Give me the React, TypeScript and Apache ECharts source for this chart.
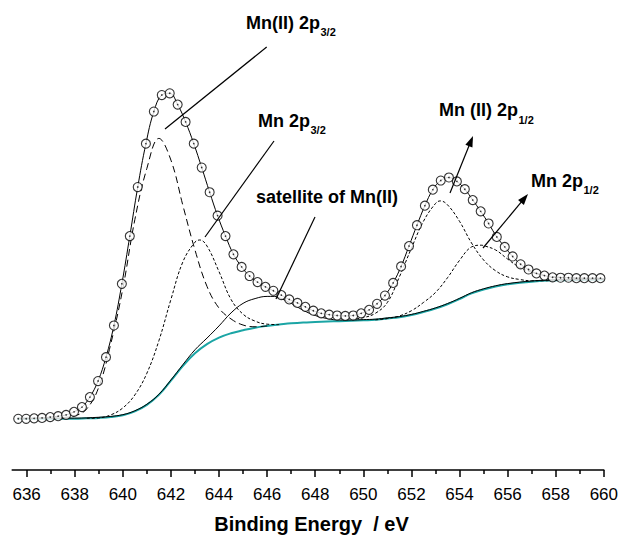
import React, { useEffect, useRef } from "react";
import * as echarts from "echarts";

// Measured spectrum (binding energy in eV, intensity in arbitrary units)
const bindingEnergy = [
  635.65, 635.98, 636.31, 636.64, 636.98, 637.31, 637.64, 637.97, 638.3, 638.63,
  638.97, 639.3, 639.63, 639.96, 640.29, 640.62, 640.96, 641.29, 641.62, 641.95,
  642.28, 642.61, 642.95, 643.28, 643.61, 643.94, 644.27, 644.6, 644.94, 645.27,
  645.6, 645.93, 646.26, 646.59, 646.92, 647.26, 647.59, 647.92, 648.25, 648.58,
  648.91, 649.25, 649.58, 649.91, 650.24, 650.57, 650.9, 651.24, 651.57, 651.9,
  652.23, 652.56, 652.89, 653.22, 653.56, 653.89, 654.22, 654.55, 654.88, 655.21,
  655.55, 655.88, 656.21, 656.54, 656.87, 657.2, 657.53, 657.87, 658.2, 658.53,
  658.86, 659.19, 659.53, 659.86,
];
const intensity = [
  11.8, 11.8, 11.9, 12.0, 12.2, 12.4, 12.7, 13.4, 14.5, 16.8,
  20.5, 26.0, 33.3, 42.9, 53.9, 65.2, 75.2, 82.6, 86.4, 86.8,
  84.2, 80.2, 75.2, 69.7, 64.0, 58.6, 53.9, 49.7, 46.8, 44.7,
  43.3, 42.2, 41.3, 40.3, 39.3, 38.5, 37.6, 36.7, 36.1, 35.8,
  35.6, 35.5, 35.6, 36.1, 36.9, 38.3, 40.2, 43.1, 46.9, 51.6,
  56.4, 60.9, 64.6, 66.7, 67.4, 66.5, 64.7, 62.2, 59.6, 56.8,
  53.7, 51.4, 49.2, 47.4, 46.2, 45.3, 44.8, 44.4, 44.3, 44.3,
  44.2, 44.2, 44.2, 44.2,
];

// Shirley background
const background = [
  [635.6, 11.8], [636, 11.8], [637, 11.8], [638, 11.8], [638.5, 11.9], [639, 12.0],
  [639.5, 12.2], [640, 12.6], [640.5, 13.5], [641, 15.0], [641.5, 17.3], [642, 20.6],
  [642.5, 24.0], [643, 26.9], [643.5, 29.0], [644, 30.5], [644.5, 31.5], [645, 32.2],
  [645.5, 32.8], [646, 33.2], [646.5, 33.5], [647, 33.8], [647.5, 34.0], [648, 34.1],
  [648.5, 34.2], [649, 34.3], [649.5, 34.4], [650, 34.5], [650.5, 34.6], [651, 34.9],
  [651.5, 35.2], [652, 35.7], [652.5, 36.4], [653, 37.2], [653.5, 38.2], [654, 39.4],
  [654.5, 40.7], [655, 41.6], [655.5, 42.3], [656, 42.8], [657, 43.4], [658, 43.7],
  [659, 43.8], [660, 43.9],
];

// Satellite of Mn(II) (solid)
const satelliteFit = [
  [635.6, 11.95], [637, 11.95], [638, 11.95], [639, 12.15], [639.5, 12.35], [640, 12.75],
  [640.5, 13.65], [641, 15.15], [641.5, 17.45], [642, 20.75], [642.5, 24.3], [643, 27.7],
  [643.5, 30.4], [644, 33.2], [644.5, 36.2], [645, 38.4], [645.5, 39.5], [646, 40.0],
  [646.3, 40.0], [646.5, 39.7], [647, 38.4], [647.5, 36.8], [648, 35.6], [648.5, 34.9],
  [649, 34.55], [649.5, 34.55], [650, 34.65], [650.5, 34.75], [651, 35.05], [651.5, 35.35],
  [652, 35.85], [652.5, 36.55], [653, 37.35], [653.5, 38.35], [654, 39.55], [654.5, 40.85],
  [655, 41.75], [655.5, 42.45], [656, 42.95], [657, 43.55], [658, 43.85], [659, 43.95],
  [660, 44.05],
];

// Mn(II) 2p3/2 (long dash)
const mnII2p32Fit = [
  [637, 11.9], [638, 12.5], [638.5, 14.1], [639, 19.1], [639.5, 29.1], [640, 41.8],
  [640.5, 57.7], [641, 69.5], [641.5, 76.4], [642, 71.4], [642.5, 60.9], [643, 50.7],
  [643.5, 42.3], [644, 37.3], [644.5, 34.8], [645, 33.4], [645.5, 33.0], [646, 33.2],
];

// Mn 2p3/2 (short dash)
const mn2p32Fit = [
  [638.5, 11.9], [639, 12.0], [639.5, 12.7], [640, 14.3], [640.5, 17.3], [641, 22.3],
  [641.5, 29.8], [642, 39.3], [642.5, 48.0], [643, 52.5], [643.2, 53.0], [643.5, 51.6],
  [644, 45.7], [644.5, 39.3], [645, 35.9], [645.5, 34.3], [646, 33.6], [646.5, 33.5],
];

// Mn(II) 2p1/2 (short dash)
const mnII2p12Fit = [
  [649.5, 34.7], [650, 35.1], [650.5, 36.1], [651, 38.6], [651.5, 44.5], [652, 51.1],
  [652.5, 57.3], [653, 61.4], [653.2, 62.0], [653.5, 61.1], [654, 57.3], [654.5, 52.3],
  [655, 48.4], [655.5, 45.9], [656, 44.5], [656.5, 43.9], [657, 43.6], [657.5, 43.6],
  [658, 43.7], [659, 43.8], [660, 43.9],
];

// Mn 2p1/2 (short dash)
const mn2p12Fit = [
  [650.5, 34.6], [651, 34.9], [651.5, 35.5], [652, 36.7], [652.5, 38.6], [653, 40.9],
  [653.5, 44.3], [654, 48.3], [654.5, 51.4], [654.9, 51.8], [655, 51.7], [655.5, 50.7],
  [656, 48.6], [656.5, 46.7], [657, 45.6], [657.5, 44.9], [658, 44.5], [659, 44.2],
  [660, 44.1],
];

const majorTicks = [636, 638, 640, 642, 644, 646, 648, 650, 652, 654, 656, 658, 660];
const minorTicks = [637, 639, 641, 643, 645, 647, 649, 651, 653, 655, 657, 659];
const axisTitle = "Binding Energy  / eV";

const FONT = '"Liberation Sans", Arial, Helvetica, sans-serif';

function measure(text: string, font: string): number {
  const c = document.createElement("canvas").getContext("2d");
  if (!c) return text.length * 9;
  c.font = font;
  return c.measureText(text).width;
}

function label(main: string, sub: string, x: number, y: number, subDy: number) {
  const mainFont = `bold 18px ${FONT}`;
  const subFont = `bold 11px ${FONT}`;
  const w = measure(main, mainFont);
  return [
    {
      type: "text",
      x,
      y,
      z: 100,
      style: {
        text: main,
        font: mainFont,
        fill: "#000",
        align: "left",
        verticalAlign: "middle",
        textAlign: "left",
        textVerticalAlign: "middle",
      },
    },
    ...(sub
      ? [
          {
            type: "text",
            x: x + w + 0.5,
            y: y + subDy,
            z: 100,
            style: {
              text: sub,
              font: subFont,
              fill: "#000",
              align: "left",
              verticalAlign: "middle",
              textAlign: "left",
              textVerticalAlign: "middle",
            },
          },
        ]
      : []),
  ];
}

function pointer(x1: number, y1: number, x2: number, y2: number) {
  return {
    type: "line",
    z: 100,
    shape: { x1, y1, x2, y2 },
    style: { stroke: "#000", lineWidth: 1.2 },
  };
}

function arrow(x1: number, y1: number, x2: number, y2: number) {
  const dx = x2 - x1;
  const dy = y2 - y1;
  const len = Math.sqrt(dx * dx + dy * dy);
  const ux = dx / len;
  const uy = dy / len;
  const L = 11;
  const W = 3.8;
  const bx = x2 - ux * L;
  const by = y2 - uy * L;
  return [
    pointer(x1, y1, bx + ux * 2, by + uy * 2),
    {
      type: "polygon",
      z: 100,
      shape: {
        points: [
          [x2, y2],
          [bx - uy * W, by + ux * W],
          [bx + uy * W, by - ux * W],
        ],
      },
      style: { fill: "#000" },
    },
  ];
}

export default function App() {
  const ref = useRef<HTMLDivElement>(null);

  useEffect(() => {
    if (!ref.current) return;
    const chart = echarts.init(ref.current, undefined, { renderer: "svg" });
    const spectrum = bindingEnergy.map((e, i) => [e, intensity[i]]);

    const fitLine = (name: string, data: number[][], type: any, width = 1, color = "#000", z = 3) => ({
      name,
      type: "line",
      data,
      smooth: 0.4,
      showSymbol: false,
      symbol: "none",
      silent: true,
      z,
      lineStyle: { color, width, type },
    });

    chart.setOption({
      animation: false,
      backgroundColor: "#fff",
      grid: { left: 12.2, right: 14.2, top: 36, bottom: 63, containLabel: false },
      xAxis: [
        {
          type: "value",
          min: 635.4,
          max: 660,
          position: "bottom",
          axisLine: { show: true, onZero: false, lineStyle: { color: "#000", width: 1.5 } },
          axisTick: {
            show: true,
            customValues: majorTicks,
            length: 7,
            inside: false,
            lineStyle: { color: "#000", width: 1.5 },
          },
          axisLabel: {
            customValues: majorTicks,
            fontSize: 17,
            color: "#000",
            margin: 16,
            fontFamily: FONT,
          },
          splitLine: { show: false },
          name: axisTitle,
          nameLocation: "middle",
          nameGap: 44,
          nameTextStyle: {
            fontSize: 20,
            fontWeight: "bold",
            color: "#000",
            fontFamily: FONT,
            padding: [0, 0, 0, 7],
          },
        },
        {
          type: "value",
          min: 635.4,
          max: 660,
          position: "bottom",
          axisLine: { show: false, onZero: false },
          axisTick: {
            show: true,
            customValues: minorTicks,
            length: 4,
            inside: false,
            lineStyle: { color: "#000", width: 1.5 },
          },
          axisLabel: { show: false },
          splitLine: { show: false },
        },
      ],
      yAxis: { type: "value", min: 0, max: 100, show: false },
      series: [
        fitLine("Background", background, "solid", 2, "#1ba5a5", 1),
        fitLine("Satellite of Mn(II)", satelliteFit, "solid", 1, "#000", 2),
        fitLine("Mn(II) 2p3/2", mnII2p32Fit, [7, 4], 1),
        fitLine("Mn 2p3/2", mn2p32Fit, [3, 2], 1),
        fitLine("Mn(II) 2p1/2", mnII2p12Fit, [3, 2], 1),
        fitLine("Mn 2p1/2", mn2p12Fit, [3, 2], 1),
        {
          name: "Envelope",
          type: "line",
          data: spectrum,
          smooth: 0.4,
          showSymbol: false,
          symbol: "none",
          silent: true,
          z: 4,
          lineStyle: { color: "#000", width: 1 },
        },
        {
          name: "Data",
          type: "scatter",
          data: spectrum,
          symbol: "circle",
          symbolSize: 9,
          silent: true,
          z: 5,
          itemStyle: { color: "#fff", borderColor: "#000", borderWidth: 1.1 },
        },
        {
          name: "Data centre",
          type: "scatter",
          data: spectrum,
          symbol: "circle",
          symbolSize: 1.6,
          silent: true,
          z: 6,
          itemStyle: { color: "#000" },
        },
      ],
      graphic: [
        ...label("Mn(II) 2p", "3/2", 246, 23, 9),
        pointer(266.7, 47, 165, 129),
        ...label("Mn 2p", "3/2", 258, 121, 9),
        pointer(274, 141, 205, 237),
        ...label("satellite of Mn(II)", "", 256, 197, 0),
        pointer(315, 217, 276, 299),
        ...label("Mn (II) 2p", "1/2", 439, 110, 10),
        ...arrow(450, 193, 473, 136),
        ...label("Mn 2p", "1/2", 531, 181, 9),
        ...arrow(483, 248, 528, 194),
      ],
    });

    return () => chart.dispose();
  }, []);

  return (
    <div
      ref={ref}
      style={{ position: "fixed", left: 0, top: 0, width: 621, height: 539, background: "#fff" }}
    />
  );
}
